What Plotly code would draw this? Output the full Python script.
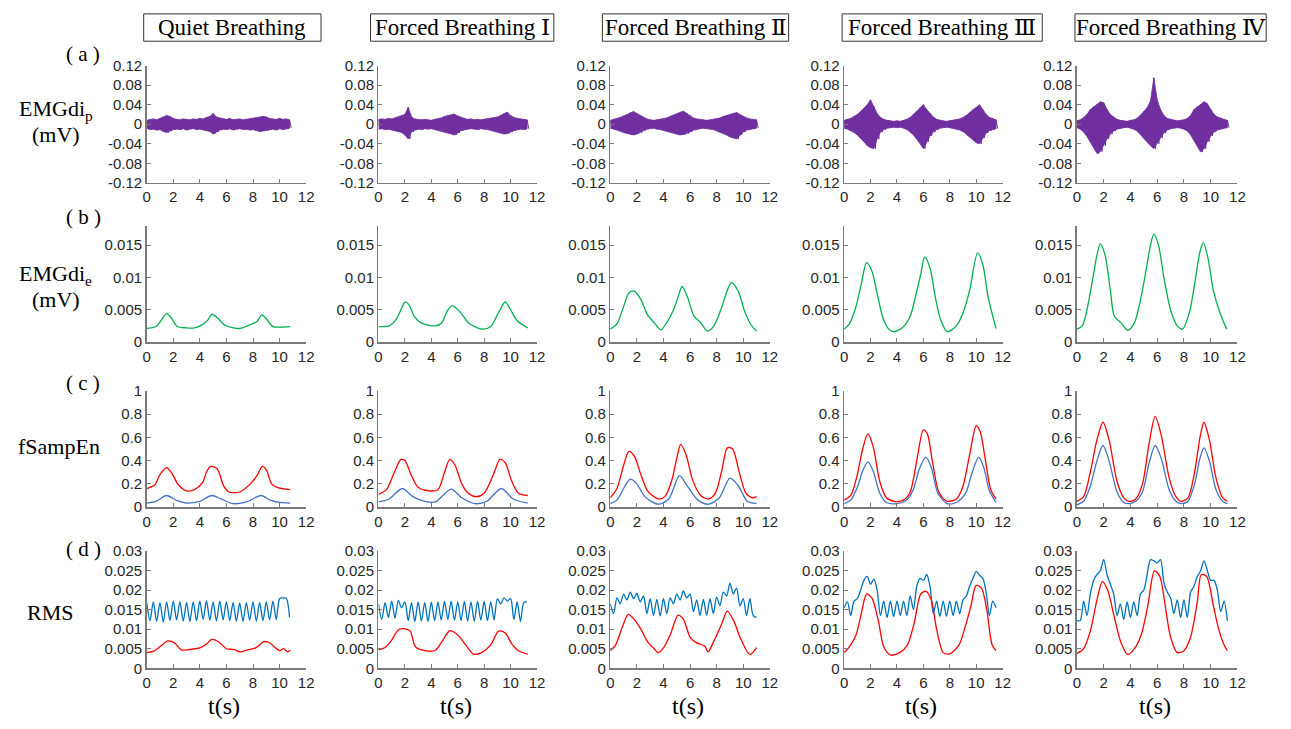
import numpy as np
import plotly.graph_objects as go

W, H = 1291, 729
STEP = 0.25  # sampling step (s) of the uniformly sampled series below

COLUMN_TITLES = ["Quiet Breathing", "Forced Breathing Ⅰ", "Forced Breathing Ⅱ",
                 "Forced Breathing Ⅲ", "Forced Breathing Ⅳ"]
X_TICKS = [0, 2, 4, 6, 8, 10, 12]
YA_TICKS = [-0.12, -0.08, -0.04, 0, 0.04, 0.08, 0.12]
YA_LABELS = ["-0.12", "-0.08", "-0.04", "0", "0.04", "0.08", "0.12"]
YB_TICKS = [0, 0.005, 0.01, 0.015]
YB_LABELS = ["0", "0.005", "0.01", "0.015"]
YC_TICKS = [0, 0.2, 0.4, 0.6, 0.8, 1]
YC_LABELS = ["0", "0.2", "0.4", "0.6", "0.8", "1"]
YD_TICKS = [0, 0.005, 0.01, 0.015, 0.02, 0.025, 0.03]
YD_LABELS = ["0", "0.005", "0.01", "0.015", "0.02", "0.025", "0.03"]

# ---------------- (a) EMGdi_p envelope (upper / lower), step 0.25 s ----------------
EMGP_UP_1 = [0.008,0.010,0.011,0.009,0.012,0.014,0.018,0.016,0.012,0.010,0.009,0.011,0.010,0.009,0.011,0.010,0.012,0.011,0.014,0.016,0.022,0.015,0.013,0.011,0.010,0.012,0.009,0.010,0.011,0.009,0.010,0.011,0.012,0.013,0.014,0.016,0.015,0.012,0.011,0.010,0.012,0.010,0.011,0.009]
EMGP_LO_1 = [-0.008,-0.011,-0.010,-0.012,-0.011,-0.015,-0.017,-0.014,-0.011,-0.010,-0.011,-0.009,-0.012,-0.010,-0.009,-0.011,-0.010,-0.012,-0.013,-0.015,-0.020,-0.016,-0.012,-0.010,-0.011,-0.009,-0.012,-0.010,-0.009,-0.011,-0.010,-0.012,-0.011,-0.013,-0.015,-0.014,-0.013,-0.011,-0.010,-0.012,-0.009,-0.011,-0.010,-0.008]
EMGP_UP_2 = [0.010,0.011,0.010,0.012,0.011,0.013,0.015,0.018,0.020,0.035,0.015,0.011,0.010,0.009,0.010,0.009,0.008,0.010,0.011,0.013,0.016,0.018,0.019,0.021,0.017,0.014,0.012,0.010,0.011,0.009,0.010,0.009,0.010,0.011,0.012,0.013,0.015,0.018,0.022,0.025,0.018,0.014,0.012,0.011,0.010,0.009]
EMGP_LO_2 = [-0.010,-0.009,-0.011,-0.010,-0.012,-0.013,-0.015,-0.017,-0.022,-0.030,-0.016,-0.012,-0.010,-0.011,-0.009,-0.010,-0.009,-0.011,-0.012,-0.014,-0.016,-0.018,-0.020,-0.022,-0.018,-0.013,-0.011,-0.010,-0.009,-0.010,-0.011,-0.009,-0.010,-0.011,-0.012,-0.014,-0.016,-0.018,-0.020,-0.019,-0.016,-0.013,-0.011,-0.010,-0.011,-0.009]
EMGP_UP_3 = [0.008,0.010,0.011,0.014,0.017,0.020,0.024,0.026,0.022,0.018,0.014,0.011,0.009,0.008,0.009,0.010,0.011,0.013,0.016,0.019,0.021,0.024,0.027,0.022,0.018,0.013,0.011,0.010,0.009,0.008,0.009,0.010,0.011,0.013,0.016,0.018,0.020,0.023,0.024,0.020,0.016,0.013,0.011,0.010,0.009]
EMGP_LO_3 = [-0.008,-0.010,-0.012,-0.014,-0.017,-0.019,-0.021,-0.022,-0.020,-0.017,-0.013,-0.010,-0.009,-0.008,-0.010,-0.011,-0.012,-0.014,-0.016,-0.018,-0.020,-0.022,-0.021,-0.019,-0.016,-0.012,-0.010,-0.009,-0.008,-0.009,-0.010,-0.011,-0.013,-0.016,-0.019,-0.022,-0.026,-0.028,-0.030,-0.022,-0.016,-0.012,-0.010,-0.009,-0.008]
EMGP_UP_4 = [0.008,0.010,0.012,0.016,0.020,0.026,0.032,0.040,0.050,0.036,0.022,0.014,0.010,0.008,0.007,0.006,0.007,0.006,0.008,0.010,0.014,0.020,0.026,0.034,0.040,0.030,0.022,0.015,0.010,0.008,0.007,0.006,0.007,0.008,0.009,0.011,0.014,0.018,0.024,0.030,0.034,0.040,0.030,0.020,0.014,0.012,0.009]
EMGP_LO_4 = [-0.008,-0.010,-0.013,-0.017,-0.022,-0.028,-0.036,-0.044,-0.048,-0.050,-0.030,-0.016,-0.011,-0.008,-0.007,-0.006,-0.007,-0.006,-0.008,-0.011,-0.016,-0.022,-0.030,-0.040,-0.050,-0.036,-0.024,-0.016,-0.011,-0.008,-0.007,-0.006,-0.007,-0.008,-0.010,-0.012,-0.015,-0.020,-0.026,-0.032,-0.038,-0.040,-0.028,-0.018,-0.013,-0.011,-0.009]
EMGP_UP_5 = [0.007,0.009,0.014,0.020,0.030,0.036,0.040,0.046,0.044,0.030,0.020,0.014,0.010,0.008,0.007,0.006,0.008,0.009,0.012,0.018,0.026,0.034,0.048,0.095,0.050,0.030,0.018,0.012,0.010,0.008,0.007,0.008,0.009,0.012,0.018,0.030,0.036,0.040,0.046,0.042,0.030,0.020,0.015,0.012,0.010,0.008]
EMGP_LO_5 = [-0.007,-0.010,-0.016,-0.025,-0.035,-0.048,-0.060,-0.056,-0.044,-0.030,-0.020,-0.014,-0.010,-0.008,-0.007,-0.006,-0.008,-0.010,-0.014,-0.020,-0.028,-0.036,-0.044,-0.050,-0.040,-0.028,-0.018,-0.012,-0.009,-0.008,-0.007,-0.008,-0.010,-0.014,-0.022,-0.034,-0.046,-0.057,-0.050,-0.036,-0.024,-0.016,-0.012,-0.010,-0.008,-0.007]

# ---------------- (b) EMGdi_e (knot times, values) ----------------
EMGE_T_1 = [0,0.7,1.1,1.5,1.9,2.3,3.0,3.6,4.2,4.6,4.9,5.3,5.9,7.0,7.8,8.3,8.65,9.0,9.5,10.0,10.8]
EMGE_V_1 = [0.0021,0.0024,0.0034,0.0044,0.0036,0.0024,0.0022,0.0022,0.0027,0.0034,0.0043,0.0038,0.0026,0.0021,0.0027,0.0032,0.0042,0.0036,0.0024,0.0023,0.0024]
EMGE_T_2 = [0,0.8,1.3,1.7,2.0,2.3,2.7,3.2,4.3,4.8,5.2,5.6,6.2,6.8,7.8,8.5,9.0,9.6,10.0,10.5,11.3]
EMGE_V_2 = [0.0024,0.0025,0.0034,0.0050,0.0062,0.0058,0.0040,0.0030,0.0025,0.0030,0.0048,0.0056,0.0046,0.0030,0.0020,0.0024,0.0042,0.0062,0.0050,0.0033,0.0022]
EMGE_T_3 = [0,0.5,1.0,1.4,1.8,2.3,2.8,3.3,3.8,4.3,4.8,5.1,5.4,5.8,6.3,6.8,7.3,7.8,8.4,8.8,9.1,9.6,10.1,10.6,11.0]
EMGE_V_3 = [0.0020,0.0028,0.0055,0.0076,0.0079,0.0066,0.0042,0.0030,0.0019,0.0032,0.0052,0.0070,0.0086,0.0070,0.0040,0.0030,0.0017,0.0025,0.0055,0.0080,0.0092,0.0080,0.0048,0.0026,0.0017]
EMGE_T_4 = [0,0.4,0.9,1.3,1.7,2.1,2.5,2.9,3.3,3.7,4.4,5.0,5.4,5.8,6.1,6.5,6.9,7.3,7.8,8.5,9.0,9.5,10.1,10.5,10.9,11.5]
EMGE_V_4 = [0.0020,0.0028,0.0055,0.0090,0.0123,0.0110,0.0075,0.0040,0.0022,0.0016,0.0022,0.0040,0.0070,0.0105,0.0132,0.0115,0.0070,0.0035,0.0016,0.0025,0.0045,0.0080,0.0138,0.0120,0.0070,0.0021]
EMGE_T_5 = [0,0.4,0.8,1.2,1.5,1.75,2.1,2.5,2.8,3.3,3.8,4.3,4.8,5.2,5.5,5.75,6.1,6.5,7.0,7.5,7.9,8.4,8.8,9.2,9.45,9.8,10.2,10.7,11.2]
EMGE_V_5 = [0.0020,0.0025,0.0055,0.0100,0.0135,0.0152,0.0135,0.0080,0.0040,0.0030,0.0018,0.0030,0.0070,0.0115,0.0150,0.0167,0.0150,0.0100,0.0050,0.0025,0.0020,0.0045,0.0090,0.0140,0.0154,0.0130,0.0080,0.0045,0.0020]

# ---------------- (c) fSampEn red / blue (knot times, values) ----------------
FS_RED_T_1 = [0,0.6,1.0,1.5,1.9,2.4,3.0,3.6,4.2,4.5,4.8,5.3,5.8,6.2,7.0,7.8,8.3,8.7,9.0,9.4,9.8,10.8]
FS_RED_V_1 = [0.16,0.19,0.28,0.34,0.29,0.19,0.14,0.15,0.21,0.30,0.35,0.33,0.18,0.13,0.13,0.20,0.27,0.35,0.32,0.20,0.17,0.15]
FS_BLU_T_1 = [0,0.7,1.5,2.3,3.0,4.0,4.9,5.6,6.5,7.5,8.6,9.3,10.0,10.8]
FS_BLU_V_1 = [0.035,0.05,0.10,0.055,0.035,0.05,0.10,0.07,0.03,0.045,0.10,0.06,0.04,0.035]
FS_RED_T_2 = [0,0.6,1.2,1.7,2.0,2.5,3.0,3.8,4.5,5.0,5.4,5.8,6.3,6.8,7.4,8.0,8.7,9.2,9.6,10.1,10.6,11.3]
FS_RED_V_2 = [0.11,0.15,0.30,0.41,0.40,0.27,0.17,0.14,0.15,0.30,0.41,0.36,0.20,0.12,0.09,0.12,0.28,0.41,0.38,0.22,0.12,0.10]
FS_BLU_T_2 = [0,0.8,1.8,2.6,3.5,4.3,5.5,6.3,7.3,8.2,9.3,10.2,11.3]
FS_BLU_V_2 = [0.045,0.07,0.16,0.09,0.05,0.045,0.155,0.08,0.03,0.05,0.16,0.07,0.035]
FS_RED_T_3 = [0,0.5,1.0,1.4,1.8,2.3,2.8,3.6,4.1,4.6,5.0,5.3,5.7,6.2,6.8,7.4,7.9,8.4,8.8,9.2,9.7,10.2,10.7,11.0]
FS_RED_V_3 = [0.08,0.16,0.36,0.48,0.44,0.28,0.14,0.07,0.09,0.22,0.42,0.54,0.45,0.23,0.10,0.07,0.12,0.32,0.51,0.50,0.30,0.12,0.08,0.09]
FS_BLU_T_3 = [0,0.5,1.0,1.5,2.0,2.6,3.6,4.4,5.2,5.8,6.6,7.4,8.2,9.0,9.6,10.3,11.0]
FS_BLU_V_3 = [0.03,0.06,0.16,0.24,0.20,0.09,0.025,0.07,0.27,0.18,0.06,0.025,0.08,0.25,0.19,0.05,0.03]
FS_RED_T_4 = [0,0.5,1.0,1.4,1.8,2.2,2.7,3.2,3.8,4.5,5.0,5.5,6.0,6.3,6.7,7.2,7.8,8.5,9.0,9.5,10.0,10.3,10.7,11.1,11.5]
FS_RED_V_4 = [0.06,0.10,0.28,0.50,0.63,0.52,0.22,0.08,0.05,0.06,0.13,0.40,0.665,0.63,0.38,0.12,0.05,0.07,0.18,0.45,0.70,0.65,0.40,0.15,0.07]
FS_BLU_T_4 = [0,0.5,1.0,1.4,1.8,2.2,2.7,3.2,4.0,4.6,5.2,5.7,6.2,6.6,7.1,7.8,8.5,9.2,9.7,10.2,10.6,11.0,11.5]
FS_BLU_V_4 = [0.03,0.06,0.17,0.31,0.39,0.31,0.12,0.04,0.03,0.05,0.14,0.33,0.43,0.34,0.12,0.03,0.04,0.12,0.30,0.43,0.33,0.14,0.04]
FS_RED_T_5 = [0,0.5,1.0,1.5,1.95,2.4,3.0,3.5,3.9,4.4,4.9,5.4,5.85,6.3,6.9,7.4,7.8,8.3,8.8,9.2,9.5,9.9,10.4,10.9,11.25]
FS_RED_V_5 = [0.05,0.09,0.30,0.58,0.73,0.58,0.22,0.08,0.05,0.07,0.20,0.55,0.78,0.62,0.25,0.09,0.05,0.08,0.30,0.60,0.73,0.58,0.25,0.08,0.05]
FS_BLU_T_5 = [0,0.5,1.0,1.5,1.95,2.4,3.0,3.5,3.9,4.4,4.9,5.4,5.85,6.3,6.9,7.4,7.8,8.3,8.8,9.2,9.5,9.9,10.4,10.9,11.25]
FS_BLU_V_5 = [0.02,0.05,0.18,0.40,0.53,0.40,0.13,0.04,0.03,0.05,0.13,0.38,0.53,0.42,0.15,0.05,0.03,0.05,0.20,0.42,0.51,0.40,0.15,0.05,0.03]

# ---------------- (d) RMS red (knots) and blue (step 0.25 s) ----------------
RMS_RED_T_1 = [0,0.5,1.0,1.6,2.1,2.6,3.2,4.0,4.5,4.9,5.4,6.0,6.6,7.0,7.6,8.2,8.8,9.2,9.6,10.0,10.3,10.6,10.8]
RMS_RED_V_1 = [0.0040,0.0043,0.0055,0.0070,0.0065,0.0047,0.0048,0.0052,0.0062,0.0074,0.0068,0.0050,0.0048,0.0042,0.0047,0.0052,0.0068,0.0066,0.0055,0.0045,0.0050,0.0042,0.0046]
RMS_RED_T_2 = [0,0.5,1.0,1.5,2.0,2.4,2.8,3.5,4.3,4.8,5.4,6.0,6.6,7.2,7.8,8.5,9.1,9.6,10.1,10.6,11.3]
RMS_RED_V_2 = [0.0047,0.0053,0.0072,0.0098,0.0101,0.0095,0.0055,0.0045,0.0046,0.0068,0.0096,0.0085,0.0060,0.0036,0.0040,0.0060,0.0095,0.0090,0.0062,0.0045,0.0036]
RMS_RED_T_3 = [0,0.4,0.9,1.35,1.8,2.3,2.8,3.3,3.6,4.0,4.5,5.1,5.5,6.0,6.5,7.1,7.35,7.8,8.4,8.8,9.3,9.8,10.5,11.0]
RMS_RED_V_3 = [0.0045,0.0060,0.0105,0.0138,0.0125,0.0100,0.0068,0.0050,0.0040,0.0052,0.0085,0.0136,0.0125,0.0080,0.0065,0.0057,0.0042,0.0070,0.0115,0.0146,0.0120,0.0076,0.0035,0.0053]
RMS_RED_T_4 = [0,0.4,0.9,1.3,1.7,2.1,2.6,3.0,3.5,4.2,4.8,5.3,5.8,6.2,6.6,7.0,7.5,8.0,8.7,9.2,9.6,10.0,10.4,10.8,11.2,11.5]
RMS_RED_V_4 = [0.0040,0.0055,0.0085,0.0140,0.0190,0.0180,0.0120,0.0055,0.0034,0.0040,0.0060,0.0115,0.0190,0.0197,0.0175,0.0100,0.0040,0.0037,0.0060,0.0110,0.0160,0.0212,0.0205,0.0150,0.0060,0.0045]
RMS_RED_T_5 = [0,0.5,1.0,1.5,1.9,2.3,2.8,3.3,3.8,4.3,4.8,5.3,5.8,6.2,6.6,7.0,7.5,8.0,8.5,9.0,9.3,9.7,10.2,10.6,11.0,11.25]
RMS_RED_V_5 = [0.0038,0.0050,0.0095,0.0175,0.0222,0.0200,0.0130,0.0065,0.0035,0.0050,0.0085,0.0160,0.0250,0.0235,0.0160,0.0080,0.0040,0.0045,0.0080,0.0170,0.0240,0.0235,0.0160,0.0100,0.0060,0.0045]

RMS_BLU_1 = [0.0168,0.0122,0.0170,0.0120,0.0168,0.0118,0.0170,0.0122,0.0172,0.0124,0.0170,0.0121,0.0168,0.0120,0.0170,0.0122,0.0172,0.0125,0.0173,0.0123,0.0170,0.0121,0.0172,0.0124,0.0170,0.0122,0.0168,0.0121,0.0167,0.0120,0.0168,0.0123,0.0170,0.0121,0.0168,0.0122,0.0170,0.0124,0.0172,0.0125,0.0178,0.0180,0.0179,0.0130]
RMS_BLU_2 = [0.0165,0.0125,0.0168,0.0130,0.0172,0.0128,0.0174,0.0155,0.0170,0.0122,0.0168,0.0120,0.0170,0.0121,0.0168,0.0120,0.0169,0.0122,0.0170,0.0124,0.0171,0.0125,0.0172,0.0123,0.0170,0.0122,0.0171,0.0121,0.0170,0.0120,0.0172,0.0123,0.0171,0.0122,0.0170,0.0124,0.0178,0.0165,0.0180,0.0172,0.0178,0.0125,0.0170,0.0120,0.0168,0.0170]
RMS_BLU_3 = [0.0165,0.0140,0.0180,0.0165,0.0190,0.0175,0.0195,0.0178,0.0192,0.0170,0.0185,0.0140,0.0178,0.0135,0.0176,0.0134,0.0178,0.0140,0.0180,0.0165,0.0190,0.0175,0.0198,0.0180,0.0190,0.0145,0.0175,0.0135,0.0176,0.0136,0.0178,0.0140,0.0182,0.0160,0.0195,0.0185,0.0218,0.0190,0.0205,0.0160,0.0178,0.0135,0.0178,0.0135,0.0130]
RMS_BLU_4 = [0.0155,0.0170,0.0135,0.0172,0.0178,0.0200,0.0225,0.0235,0.0215,0.0228,0.0200,0.0135,0.0172,0.0130,0.0172,0.0132,0.0172,0.0135,0.0172,0.0135,0.0185,0.0150,0.0210,0.0230,0.0225,0.0240,0.0210,0.0140,0.0172,0.0133,0.0172,0.0133,0.0172,0.0135,0.0172,0.0140,0.0175,0.0185,0.0210,0.0230,0.0248,0.0238,0.0230,0.0195,0.0135,0.0172,0.0155]
RMS_BLU_5 = [0.0122,0.0122,0.0172,0.0135,0.0190,0.0225,0.0240,0.0250,0.0278,0.0240,0.0215,0.0190,0.0135,0.0165,0.0125,0.0170,0.0130,0.0170,0.0135,0.0190,0.0200,0.0240,0.0278,0.0275,0.0270,0.0278,0.0220,0.0195,0.0180,0.0140,0.0175,0.0130,0.0175,0.0130,0.0195,0.0210,0.0235,0.0250,0.0275,0.0250,0.0225,0.0225,0.0200,0.0145,0.0172,0.0122]

# ---------------- layout geometry (pixels) ----------------
COL_PX = [(144, 305), (378, 538), (612, 773), (848, 1008), (1083, 1245)]
ROW_PX = [(58, 178), (222, 341), (391, 510), (555, 675)]
Y_RANGES = [[-0.12, 0.12], [0, 0.018], [0, 1], [0, 0.03]]
Y_TICKS = [(YA_TICKS, YA_LABELS), (YB_TICKS, YB_LABELS), (YC_TICKS, YC_LABELS), (YD_TICKS, YD_LABELS)]

PURPLE = "#7030A0"
GREEN = "#00B050"
RED = "#FF0000"
BLUE_FS = "#4472C4"
BLUE_RMS = "#0072BD"

SERIF = "Liberation Serif, Times New Roman, DejaVu Serif, Noto Sans CJK SC, serif"
SANS = "Liberation Sans, Arial, Helvetica, sans-serif"

emgp = [(EMGP_UP_1, EMGP_LO_1), (EMGP_UP_2, EMGP_LO_2), (EMGP_UP_3, EMGP_LO_3),
        (EMGP_UP_4, EMGP_LO_4), (EMGP_UP_5, EMGP_LO_5)]
emge = [(EMGE_T_1, EMGE_V_1), (EMGE_T_2, EMGE_V_2), (EMGE_T_3, EMGE_V_3),
        (EMGE_T_4, EMGE_V_4), (EMGE_T_5, EMGE_V_5)]
fs_red = [(FS_RED_T_1, FS_RED_V_1), (FS_RED_T_2, FS_RED_V_2), (FS_RED_T_3, FS_RED_V_3),
          (FS_RED_T_4, FS_RED_V_4), (FS_RED_T_5, FS_RED_V_5)]
fs_blu = [(FS_BLU_T_1, FS_BLU_V_1), (FS_BLU_T_2, FS_BLU_V_2), (FS_BLU_T_3, FS_BLU_V_3),
          (FS_BLU_T_4, FS_BLU_V_4), (FS_BLU_T_5, FS_BLU_V_5)]
rms_red = [(RMS_RED_T_1, RMS_RED_V_1), (RMS_RED_T_2, RMS_RED_V_2), (RMS_RED_T_3, RMS_RED_V_3),
           (RMS_RED_T_4, RMS_RED_V_4), (RMS_RED_T_5, RMS_RED_V_5)]
rms_blu = [RMS_BLU_1, RMS_BLU_2, RMS_BLU_3, RMS_BLU_4, RMS_BLU_5]

fig = go.Figure()

axis_style = dict(showline=True, linecolor="#7a7a7a", linewidth=1.5, ticks="inside", ticklen=4,
                  tickwidth=1, tickcolor="#7a7a7a", showgrid=False, zeroline=False,
                  tickfont=dict(family=SANS, size=15, color="#262626"), fixedrange=True)

layout = dict(width=W, height=H, margin=dict(l=0, r=0, t=0, b=0), paper_bgcolor="white",
              plot_bgcolor="rgba(0,0,0,0)", showlegend=False)


def ax_suffix(k):
    return "" if k == 1 else str(k)


for r in range(4):
    for c in range(5):
        k = r * 5 + c + 1
        s = ax_suffix(k)
        x0, x1 = COL_PX[c]
        y0, y1 = ROW_PX[r]
        layout["xaxis" + s] = dict(domain=[x0 / W, x1 / W], anchor="y" + s, range=[0, 12],
                                   tickvals=X_TICKS, ticktext=[str(v) for v in X_TICKS], **axis_style)
        layout["yaxis" + s] = dict(domain=[1 - y1 / H, 1 - y0 / H], anchor="x" + s, range=Y_RANGES[r],
                                   tickvals=Y_TICKS[r][0], ticktext=Y_TICKS[r][1], **axis_style)


def add_line(k, x, y, color, width=1.3, shape="spline"):
    s = ax_suffix(k)
    fig.add_trace(go.Scatter(x=list(x), y=list(y), mode="lines",
                             line=dict(color=color, width=width, shape=shape, smoothing=0.8),
                             xaxis="x" + s, yaxis="y" + s, hoverinfo="skip"))


for c in range(5):
    # row a: EMG band (filled envelope + zig-zag trace between the envelope samples)
    up, lo = emgp[c]
    n = min(len(up), len(lo))
    t = list(np.arange(n) * STEP)
    s = ax_suffix(c + 1)
    fig.add_trace(go.Scatter(x=t + t[::-1], y=list(up[:n]) + list(lo[:n])[::-1], mode="lines",
                             fill="toself", fillcolor=PURPLE, line=dict(color=PURPLE, width=0.8),
                             xaxis="x" + s, yaxis="y" + s, hoverinfo="skip"))
    zx, zy = [], []
    for i in range(n):
        zx += [t[i], t[i] + STEP / 2]
        zy += [up[i], lo[i]]
    fig.add_trace(go.Scatter(x=zx, y=zy, mode="lines", line=dict(color=PURPLE, width=1),
                             xaxis="x" + s, yaxis="y" + s, hoverinfo="skip"))
    # row b
    add_line(5 + c + 1, emge[c][0], emge[c][1], GREEN)
    # row c
    add_line(10 + c + 1, fs_red[c][0], fs_red[c][1], RED)
    add_line(10 + c + 1, fs_blu[c][0], fs_blu[c][1], BLUE_FS)
    # row d
    tb = np.arange(len(rms_blu[c])) * STEP
    add_line(15 + c + 1, tb, rms_blu[c], BLUE_RMS)
    add_line(15 + c + 1, rms_red[c][0], rms_red[c][1], RED)

annotations = []
shapes = []

TITLE_BOX_PX = [(141, 320), (370, 555), (604, 792), (846, 1048), (1081, 1274)]
for (bx0, bx1), title in zip(TITLE_BOX_PX, COLUMN_TITLES):
    shapes.append(dict(type="rect", xref="paper", yref="paper", x0=bx0 / W, x1=bx1 / W,
                       y0=1 - 33 / H, y1=1 - 5 / H, line=dict(color="#333333", width=1)))
    annotations.append(dict(text=title, x=(bx0 + bx1) / 2 / W, y=1 - 19 / H, xref="paper", yref="paper",
                            showarrow=False, xanchor="center", yanchor="middle",
                            font=dict(family=SERIF, size=23, color="black")))

ROW_TAGS = [("( a )", 46), ("( b )", 213), ("( c )", 383), ("( d )", 553)]
for txt, yy in ROW_TAGS:
    annotations.append(dict(text=txt, x=80 / W, y=1 - yy / H, xref="paper", yref="paper", showarrow=False,
                            xanchor="center", yanchor="middle", font=dict(family=SERIF, size=21, color="black")))

ROW_LABELS = [("EMGdi<sub>p</sub>", 52, 103), ("(mV)", 52, 128), ("EMGdi<sub>e</sub>", 52, 272),
              ("(mV)", 52, 297), ("fSampEn", 56, 448), ("RMS", 46, 618)]
for txt, xx, yy in ROW_LABELS:
    annotations.append(dict(text=txt, x=xx / W, y=1 - yy / H, xref="paper", yref="paper", showarrow=False,
                            xanchor="center", yanchor="middle", font=dict(family=SERIF, size=22, color="black")))

for c in range(5):
    x0, x1 = COL_PX[c]
    annotations.append(dict(text="t(s)", x=((x0 + x1) / 2 - 2) / W, y=1 - 714 / H, xref="paper", yref="paper",
                            showarrow=False, xanchor="center", yanchor="middle",
                            font=dict(family=SERIF, size=24, color="black")))

layout["annotations"] = annotations
layout["shapes"] = shapes
fig.update_layout(**layout)
fig.write_html("out.html", config={"displayModeBar": False, "staticPlot": True},
               post_script="document.body.style.margin='0';document.body.style.overflow='hidden';")
